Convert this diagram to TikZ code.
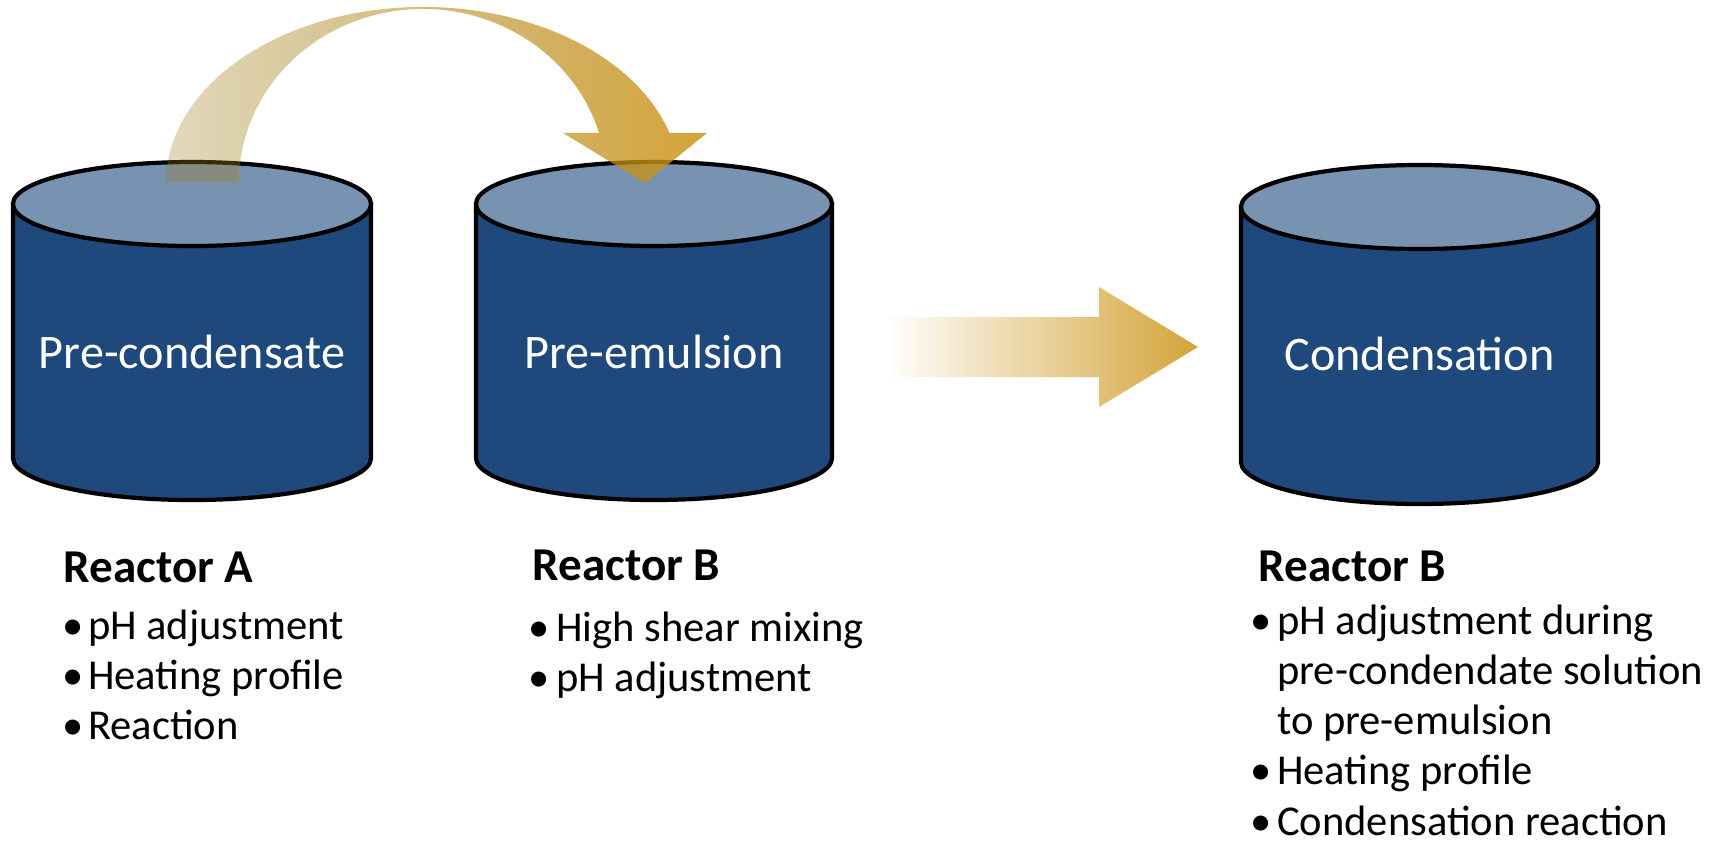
\documentclass[tikz,border=0pt]{standalone}
\usepackage{fontspec}
\setmainfont{Carlito}
\usetikzlibrary{positioning, fadings}

\definecolor{tankblue}{RGB}{31,73,125}
\definecolor{tanktop}{RGB}{120,146,177}
\definecolor{gold}{RGB}{212,164,57}
\definecolor{darkgold}{RGB}{205,148,22}
\definecolor{oldgold}{RGB}{158,125,32}

\tikzfading[name=arcfade, left color=transparent!70, right color=transparent!15]

\begin{document}
\begin{tikzpicture}[x=0.01cm, y=0.01cm,
    tank/.style={draw=black, line width=1.2pt, fill=tankblue},
    lid/.style={draw=black, line width=1.2pt, fill=tanktop},
    tank label/.style={anchor=base, inner sep=0pt, text=white, font=\fontsize{13.7}{16}\selectfont},
    heading/.style={anchor=base west, inner sep=0pt, font=\fontsize{13.4}{16}\selectfont\bfseries},
    steps/.style={anchor=base west, inner sep=0pt, align=left, font=\fontsize{12.1}{14.3}\selectfont}]

    \useasboundingbox (0,0) rectangle (1716,844);

    % Reactors
    \draw[tank] (13,640) -- (13,386) arc[start angle=180, end angle=360, x radius=179, y radius=42] -- (371,640) -- cycle;
    \draw[lid] (192,640) ellipse [x radius=179, y radius=42];
    \draw[tank] (476,640) -- (476,386) arc[start angle=180, end angle=360, x radius=178, y radius=42] -- (832,640) -- cycle;
    \draw[lid] (654,640) ellipse [x radius=178, y radius=42];
    \draw[tank] (1241,637) -- (1241,382) arc[start angle=180, end angle=360, x radius=178.5, y radius=42] -- (1598,637) -- cycle;
    \draw[lid] (1419.5,637) ellipse [x radius=178.5, y radius=42];

    % Nodes
    \node (preCond) [tank label] at (192,476) {Pre-condensate};
    \node (preEmul) [tank label] at (654,476) {Pre-emulsion};
    \node (condens) [tank label] at (1419.5,474) {Condensation};

    \node (headA) [heading] at (63,262) {Reactor A};
    \node (headB) [heading] at (532,264) {Reactor B};
    \node (headC) [heading] at (1258,263) {Reactor B};

    \node (listA) [steps] at (62,205) {\begin{tabular}[t]{@{}l@{\hspace{1.2pt}}l@{}}
        • & pH adjustment\\
        • & Heating profile\\
        • & Reaction
    \end{tabular}};
    \node (listB) [steps] at (528,203) {\begin{tabular}[t]{@{}l@{\hspace{1.8pt}}l@{}}
        • & High shear mixing\\
        • & pH adjustment
    \end{tabular}};
    \node (listC) [steps] at (1250,210) {\begin{tabular}[t]{@{}l@{\hspace{1.5pt}}l@{}}
        • & pH adjustment during\\
          & pre-condendate solution\\
          & to pre-emulsion\\
        • & Heating profile\\
        • & Condensation reaction
    \end{tabular}};

    % Arrows
    \shade[left color=oldgold, right color=darkgold, path fading=arcfade]
        (166,661) arc[start angle=180, end angle=16.5, x radius=257, y radius=176]
        -- (707,711) -- (645,661) -- (563,711) -- (599,711)
        arc[start angle=16.7, end angle=180, x radius=184, y radius=174] -- cycle;
    \shade[left color=white, right color=gold]
        (885,527) -- (1099,527) -- (1099,557) -- (1198,497) -- (1099,437) -- (1099,467) -- (885,467) -- cycle;
\end{tikzpicture}
\end{document}
